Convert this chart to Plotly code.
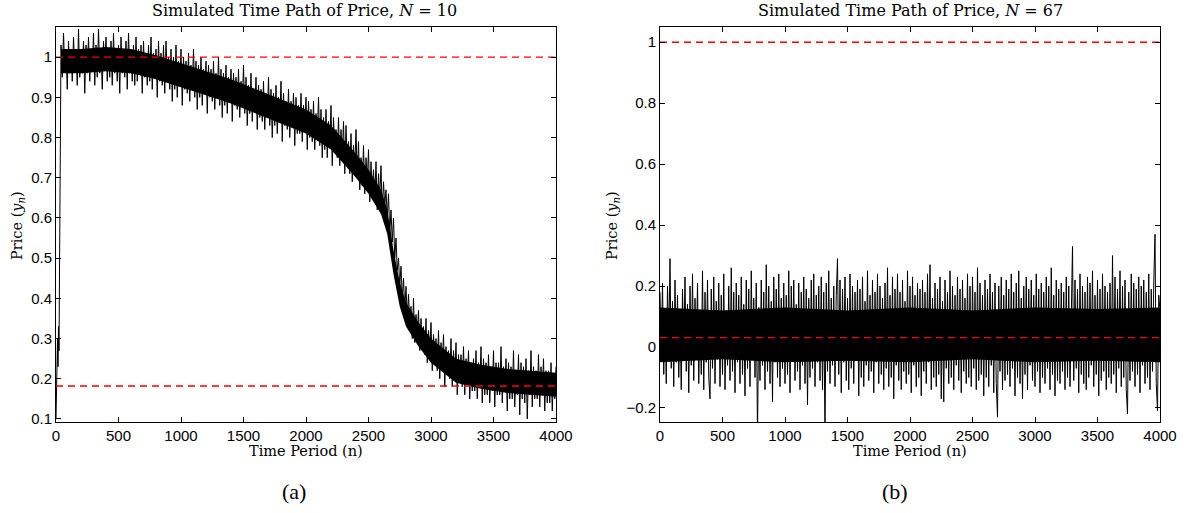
import plotly.graph_objects as go

# --------------------------
# Panel (a): N = 10
# --------------------------
n_a = [0, 4, 8, 12, 16, 20, 24, 28, 32, 36] + list(range(40, 4001, 10))
price_a = [
    0.10, 0.17, 0.24, 0.30, 0.23, 0.33, 0.27, 0.52, 0.88, 0.94,
    1.03, 0.95, 1.06, 0.97, 1.01, 0.92, 1.04, 0.96, 1.02, 0.94,
    1.05, 0.97, 1.02, 0.93, 1.07, 0.95, 1.01, 0.96, 1.04, 0.91,
    1.03, 0.96, 1.05, 0.94, 1.02, 0.97, 1.06, 0.93, 1.03, 0.95,
    1.07, 0.96, 1.02, 0.92, 1.04, 0.97, 1.05, 0.94, 1.01, 0.95,
    1.04, 0.93, 1.06, 0.96, 1.02, 0.94, 1.03, 0.91, 1.05, 0.96,
    1.02, 0.95, 1.04, 0.92, 1.06, 0.96, 1.01, 0.94, 1.03, 0.93,
    1.05, 0.94, 1.02, 0.96, 1.03, 0.91, 1.04, 0.95, 1.01, 0.93,
    1.03, 0.94, 1.05, 0.92, 1.01, 0.95, 1.02, 0.90, 1.04, 0.94,
    1.01, 0.93, 1.03, 0.91, 1.04, 0.94, 1.00, 0.92, 1.02, 0.89,
    1.00, 0.92, 1.03, 0.90, 0.99, 0.93, 1.02, 0.88, 1.00, 0.92,
    0.99, 0.91, 1.01, 0.89, 0.98, 0.92, 1.02, 0.90, 0.99, 0.87,
    0.98, 0.90, 1.00, 0.88, 0.97, 0.91, 0.99, 0.86, 0.98, 0.90,
    0.97, 0.89, 0.99, 0.87, 0.96, 0.90, 1.00, 0.88, 0.97, 0.85,
    0.96, 0.88, 0.98, 0.86, 0.95, 0.89, 0.97, 0.84, 0.96, 0.88,
    0.95, 0.87, 0.97, 0.85, 0.94, 0.88, 0.98, 0.86, 0.95, 0.83,
    0.93, 0.86, 0.96, 0.84, 0.92, 0.87, 0.95, 0.82, 0.93, 0.85,
    0.92, 0.84, 0.94, 0.82, 0.91, 0.85, 0.95, 0.83, 0.92, 0.80,
    0.91, 0.83, 0.93, 0.81, 0.90, 0.84, 0.94, 0.79, 0.91, 0.83,
    0.89, 0.82, 0.92, 0.80, 0.89, 0.83, 0.91, 0.78, 0.90, 0.81,
    0.88, 0.81, 0.91, 0.79, 0.88, 0.82, 0.90, 0.77, 0.89, 0.80,
    0.87, 0.79, 0.89, 0.77, 0.86, 0.80, 0.90, 0.78, 0.87, 0.75,
    0.85, 0.77, 0.87, 0.75, 0.84, 0.78, 0.88, 0.73, 0.85, 0.77,
    0.82, 0.75, 0.85, 0.73, 0.82, 0.76, 0.84, 0.71, 0.83, 0.74,
    0.79, 0.71, 0.81, 0.69, 0.78, 0.72, 0.82, 0.70, 0.79, 0.67,
    0.75, 0.68, 0.78, 0.66, 0.75, 0.69, 0.77, 0.64, 0.74, 0.67,
    0.72, 0.65, 0.74, 0.62, 0.71, 0.65, 0.73, 0.61, 0.69, 0.63,
    0.67, 0.60, 0.66, 0.56, 0.62, 0.54, 0.60, 0.50, 0.55, 0.47,
    0.50, 0.43, 0.48, 0.40, 0.45, 0.37, 0.43, 0.35, 0.41, 0.34,
    0.38, 0.30, 0.40, 0.29, 0.36, 0.31, 0.37, 0.27, 0.35, 0.28,
    0.33, 0.26, 0.35, 0.24, 0.32, 0.27, 0.34, 0.22, 0.31, 0.25,
    0.30, 0.22, 0.32, 0.20, 0.29, 0.23, 0.31, 0.18, 0.28, 0.21,
    0.27, 0.20, 0.30, 0.18, 0.27, 0.21, 0.29, 0.16, 0.26, 0.19,
    0.26, 0.18, 0.28, 0.16, 0.25, 0.19, 0.27, 0.15, 0.24, 0.17,
    0.25, 0.17, 0.27, 0.15, 0.24, 0.18, 0.28, 0.14, 0.25, 0.16,
    0.24, 0.16, 0.26, 0.14, 0.23, 0.17, 0.27, 0.13, 0.24, 0.16,
    0.24, 0.16, 0.28, 0.14, 0.23, 0.17, 0.25, 0.12, 0.24, 0.15,
    0.23, 0.15, 0.27, 0.13, 0.22, 0.16, 0.26, 0.11, 0.24, 0.15,
    0.23, 0.14, 0.25, 0.10, 0.22, 0.16, 0.27, 0.13, 0.23, 0.15,
    0.22, 0.15, 0.26, 0.13, 0.23, 0.16, 0.25, 0.12, 0.22, 0.14,
    0.22, 0.14, 0.24, 0.12, 0.21, 0.15, 0.23,
]
# dense core of the noisy band
core_n_a = [40, 200, 400, 600, 800, 1000, 1200, 1400, 1600, 1800, 2000, 2200,
            2400, 2500, 2600, 2650, 2700, 2750, 2800, 2900, 3000, 3200, 3400,
            3600, 3800, 4000]
core_hi_a = [1.02, 1.02, 1.025, 1.02, 1.005, 0.985, 0.965, 0.945, 0.92, 0.895,
             0.87, 0.83, 0.76, 0.72, 0.67, 0.62, 0.52, 0.44, 0.39, 0.34, 0.30,
             0.25, 0.235, 0.225, 0.22, 0.215]
core_lo_a = [0.96, 0.96, 0.965, 0.96, 0.945, 0.925, 0.905, 0.885, 0.86, 0.835,
             0.81, 0.77, 0.70, 0.66, 0.61, 0.56, 0.46, 0.38, 0.33, 0.28, 0.24,
             0.19, 0.175, 0.165, 0.16, 0.155]
ref_a = [1.0, 0.182]

# --------------------------
# Panel (b): N = 67
# --------------------------
n_b = list(range(0, 4001, 10))
price_b = [
    0.18, -0.04, 0.21, -0.09, 0.12, -0.12, 0.20, 0.01, 0.29, -0.07,
    0.15, -0.13, 0.22, -0.05, 0.17, -0.10, 0.09, -0.14, 0.19, -0.02,
    0.23, -0.08, 0.14, -0.15, 0.20, -0.06, 0.24, -0.11, 0.16, -0.03,
    0.21, -0.12, 0.11, -0.09, 0.25, -0.14, 0.18, -0.05, 0.22, -0.10,
    -0.17, 0.19, -0.07, 0.23, -0.12, 0.15, -0.04, 0.21, -0.13, 0.17,
    -0.09, 0.24, -0.14, 0.12, -0.06, 0.20, -0.11, 0.26, -0.08, 0.18,
    -0.15, 0.21, -0.05, 0.17, -0.12, 0.23, -0.09, 0.14, -0.16, 0.22,
    -0.07, 0.19, -0.13, 0.25, -0.04, 0.16, -0.10, 0.21, -0.30, 0.13,
    -0.11, 0.22, -0.06, 0.18, -0.14, 0.27, -0.08, 0.20, -0.12, 0.15,
    -0.18, 0.23, -0.05, 0.19, -0.10, 0.24, -0.13, 0.16, -0.07, 0.21,
    -0.12, 0.17, -0.09, 0.25, -0.15, 0.20, -0.04, 0.22, -0.11, 0.14,
    -0.08, 0.21, -0.14, 0.18, -0.06, 0.23, -0.12, 0.19, -0.19, 0.16,
    -0.10, 0.22, -0.07, 0.24, -0.13, 0.17, -0.05, 0.20, -0.11, 0.23,
    -0.14, 0.18, -0.30, 0.21, -0.08, 0.25, -0.12, 0.16, -0.06, 0.20,
    -0.13, 0.17, 0.29, -0.09, 0.22, -0.15, 0.19, -0.05, 0.23, -0.11,
    0.16, -0.14, 0.24, -0.07, 0.20, -0.12, 0.18, -0.04, 0.22, -0.16,
    0.19, -0.10, 0.23, -0.13, 0.15, -0.06, 0.25, -0.11, 0.17, -0.08,
    0.22, -0.15, 0.18, -0.05, 0.24, -0.12, 0.20, -0.09, 0.16, -0.14,
    0.21, -0.07, 0.26, -0.13, 0.17, -0.10, 0.23, -0.17, 0.19, -0.06,
    0.24, -0.11, 0.18, -0.14, 0.22, -0.08, 0.15, -0.12, 0.25, -0.09,
    0.20, -0.15, 0.23, -0.06, 0.17, -0.13, 0.21, -0.10, 0.19, -0.16,
    0.22, -0.08, 0.18, -0.12, 0.24, -0.05, 0.27, -0.14, 0.16, -0.10,
    0.21, -0.13, 0.19, -0.09, 0.23, -0.17, 0.15, -0.18, 0.22, -0.07,
    0.18, -0.12, 0.25, -0.10, 0.20, -0.14, 0.17, -0.06, 0.23, -0.11,
    0.19, -0.15, 0.22, -0.08, 0.16, -0.12, 0.24, -0.10, 0.20, -0.13,
    0.23, -0.07, 0.18, -0.14, 0.26, -0.11, 0.21, -0.09, 0.17, -0.16,
    0.22, -0.10, 0.19, -0.13, 0.24, -0.06, 0.18, -0.15, 0.21, -0.12,
    -0.23, 0.20, -0.08, 0.23, -0.14, 0.17, -0.11, 0.22, -0.09, 0.19,
    -0.13, 0.24, -0.07, 0.18, -0.16, 0.21, -0.10, 0.25, -0.12, 0.16,
    -0.17, 0.20, -0.09, 0.23, -0.14, 0.19, -0.06, 0.22, -0.11, 0.17,
    -0.13, 0.24, -0.08, 0.19, -0.15, 0.21, -0.10, 0.18, -0.12, 0.23,
    -0.07, 0.20, -0.14, 0.26, -0.09, 0.17, -0.16, 0.22, -0.11, 0.19,
    -0.12, 0.21, -0.08, 0.18, -0.14, 0.23, -0.10, 0.20, -0.13, 0.17,
    0.33, -0.11, 0.22, -0.07, 0.19, -0.15, 0.24, -0.09, 0.20, -0.12,
    0.18, -0.14, 0.23, -0.10, 0.21, -0.06, 0.25, -0.13, 0.17, -0.09,
    0.22, -0.16, 0.19, -0.11, 0.24, -0.08, 0.20, -0.14, 0.18, -0.10,
    0.21, -0.12, 0.30, -0.09, 0.23, -0.15, 0.19, -0.07, 0.25, -0.13,
    0.20, -0.10, 0.22, -0.14, -0.22, 0.18, -0.11, 0.24, -0.08, 0.21,
    -0.13, 0.19, -0.09, 0.23, -0.15, 0.20, -0.06, 0.22, -0.12, 0.18,
    -0.10, 0.24, -0.14, 0.19, -0.08, 0.21, 0.37, -0.12, -0.21, 0.17,
    0.12,
]
core_n_b = [0, 500, 1000, 1500, 2000, 2500, 3000, 3500, 4000]
core_hi_b = [0.13, 0.12, 0.13, 0.12, 0.13, 0.12, 0.13, 0.125, 0.13]
core_lo_b = [-0.05, -0.04, -0.05, -0.045, -0.05, -0.04, -0.05, -0.045, -0.05]
ref_b = [1.0, 0.031]

fig = go.Figure()


def add_panel(fig, xa, ya, n, price, cn, chi, clo, refs):
    fig.add_trace(go.Scatter(
        x=cn + cn[::-1], y=chi + clo[::-1], fill="toself", fillcolor="black",
        line=dict(width=0), mode="lines", xaxis=xa, yaxis=ya,
        showlegend=False, hoverinfo="skip"))
    fig.add_trace(go.Scatter(
        x=n, y=price, mode="lines", line=dict(color="black", width=1),
        xaxis=xa, yaxis=ya, showlegend=False))
    for r in refs:
        fig.add_trace(go.Scatter(
            x=[0, 4000], y=[r, r], mode="lines",
            line=dict(color="red", width=1.3, dash="7px,5px"),
            xaxis=xa, yaxis=ya, showlegend=False))


add_panel(fig, "x", "y", n_a, price_a, core_n_a, core_hi_a, core_lo_a, ref_a)
add_panel(fig, "x2", "y2", n_b, price_b, core_n_b, core_hi_b, core_lo_b, ref_b)

W, H = 1193, 513
ax_common = dict(showline=True, linecolor="black", linewidth=1, mirror="ticks",
                 ticks="inside", ticklen=5, tickcolor="black", showgrid=False,
                 zeroline=False, automargin=False,
                 tickfont=dict(family="Liberation Sans", size=15, color="black"))
ydom = [1 - 422 / H, 1 - 27 / H]

fig.update_layout(
    width=W, height=H, margin=dict(l=0, r=0, t=0, b=0),
    plot_bgcolor="white", paper_bgcolor="white",
    xaxis=dict(domain=[56 / W, 556 / W], range=[0, 4000],
               tickvals=list(range(0, 4001, 500)), anchor="y", **ax_common),
    yaxis=dict(domain=ydom, range=[0.0925, 1.075],
               tickvals=[0.1, 0.2, 0.3, 0.4, 0.5, 0.6, 0.7, 0.8, 0.9, 1.0],
               ticktext=["0.1", "0.2", "0.3", "0.4", "0.5", "0.6", "0.7", "0.8", "0.9", "1"],
               anchor="x", **ax_common),
    xaxis2=dict(domain=[660 / W, 1160 / W], range=[0, 4000],
                tickvals=list(range(0, 4001, 500)), anchor="y2", **ax_common),
    yaxis2=dict(domain=ydom, range=[-0.246, 1.05],
                tickvals=[-0.2, 0, 0.2, 0.4, 0.6, 0.8, 1.0],
                ticktext=["\u22120.2", "0", "0.2", "0.4", "0.6", "0.8", "1"],
                anchor="x2", **ax_common),
)

annots = [
    (304, 11, "Simulated Time Path of Price, <i>N</i> = 10", 16, 0),
    (910, 11, "Simulated Time Path of Price, <i>N</i> = 67", 16, 0),
    (306, 451, "Time Period (n)", 14.5, 0),
    (910, 451, "Time Period (n)", 14.5, 0),
    (18, 226, "Price (<i>y<sub>n</sub></i>)", 14.5, -90),
    (613, 226, "Price (<i>y<sub>n</sub></i>)", 14.5, -90),
    (294, 491, "(a)", 22, 0),
    (895, 491, "(b)", 22, 0),
]
for x, y, t, s, ang in annots:
    fam = "Liberation Serif" if t in ("(a)", "(b)") else "DejaVu Serif"
    fig.add_annotation(x=x / W, y=1 - y / H, xref="paper", yref="paper",
                       text=t, showarrow=False, textangle=ang, xanchor="center",
                       yanchor="middle", font=dict(family=fam, size=s, color="black"))

# drop the default 8px page margin so the figure fills the window
fig.write_html("out.html", config={"displayModeBar": False},
               post_script="document.body.style.margin='0';")
